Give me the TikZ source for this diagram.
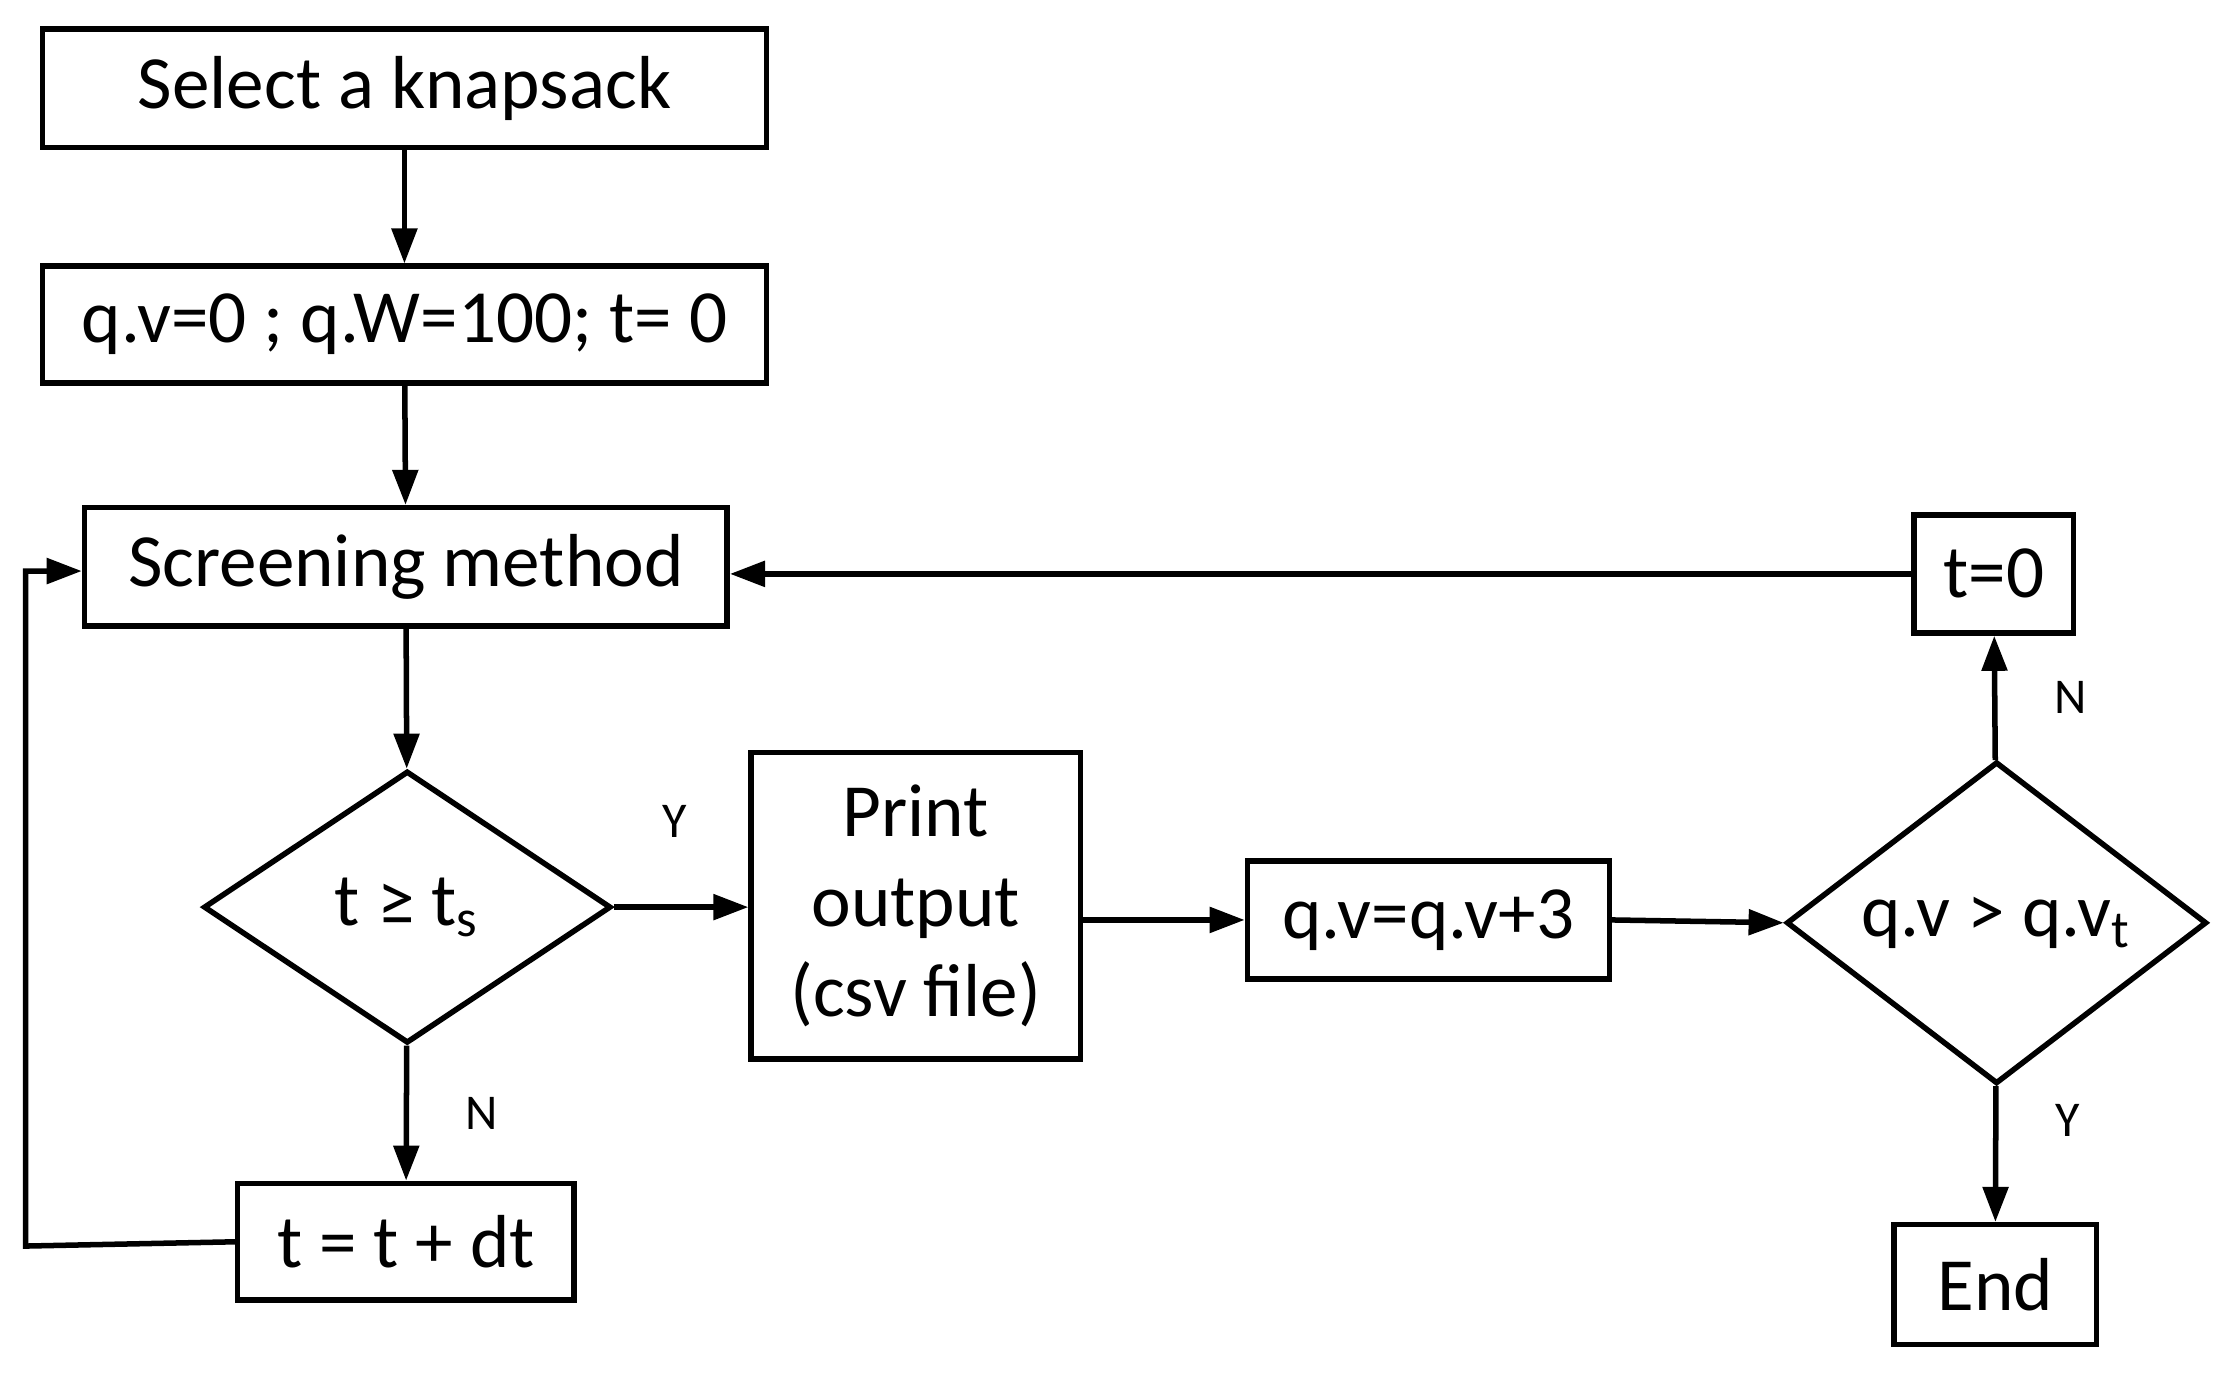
\documentclass[tikz,border=0pt]{standalone}
\usepackage{fontspec}
\setmainfont{Carlito}
\usetikzlibrary{shapes.geometric,arrows.meta}
\begin{document}
\begin{tikzpicture}[x=0.01cm,y=-0.01cm,
  box/.style={draw,line width=1.1pt,inner sep=0pt,font=\fontsize{15}{18}\selectfont},
  dia/.style={draw,diamond,line width=1.1pt,inner sep=0pt,font=\fontsize{15}{18}\selectfont},
  arr/.style={line width=1.1pt,-{Triangle[length=7pt,width=5pt]}},
  lab/.style={font=\fontsize{10}{12}\selectfont}]
\useasboundingbox (0,0) rectangle (1568,968);
% Boxes
\node[box,minimum width=5.08cm,minimum height=0.83cm] (sel) at (284,62) {Select a knapsack};
\node[box,minimum width=5.08cm,minimum height=0.82cm] (init) at (284,228) {q.v=0 ; q.W=100; t= 0};
\node[box,minimum width=4.51cm,minimum height=0.83cm] (scr) at (285,398) {Screening method};
\node[box,minimum width=1.12cm,minimum height=0.83cm] (t0) at (1400,403) {t=0};
\node[dia,minimum width=2.86cm,minimum height=1.91cm] (d1) at (286,637) {t ≥ t\textsubscript{s}};
\node[box,minimum width=2.31cm,minimum height=2.15cm,align=center] (prt) at (643,636) {Print\\output\\(csv file)};
\node[box,minimum width=2.54cm,minimum height=0.83cm] (inc) at (1003,646) {q.v=q.v+3};
\node[dia,minimum width=2.95cm,minimum height=1.95cm] (d2) at (1402,648) {q.v > q.v\textsubscript{t}};
\node[box,minimum width=2.36cm,minimum height=0.82cm] (dt) at (285,872) {t = t + dt};
\node[box,minimum width=1.42cm,minimum height=0.84cm] (end) at (1401,902) {End};
% Connectors
\draw[arr] (sel) -- (init);
\draw[arr] (init) -- (scr);
\draw[arr] (scr) -- (d1);
\draw[arr] (d1.east) -- node[lab,above=10pt,pos=0.45] {Y} (prt.west |- d1.east);
\draw[arr] (prt.east |- inc.west) -- (inc.west);
\draw[arr] (inc.east) -- (d2.west);
\draw[arr] (d1) -- node[lab,right=8pt] {N} (dt);
\draw[arr] (dt.west) -- (18,875) -- (18,401) -- (scr.west |- 0,401);
\draw[arr] (d2) -- node[lab,right=8pt] {N} (t0);
\draw[arr] (d2) -- node[lab,right=8pt,pos=0.25] {Y} (end);
\draw[arr] (t0.west) -- (scr.east |- t0.west);
\end{tikzpicture}
\end{document}
